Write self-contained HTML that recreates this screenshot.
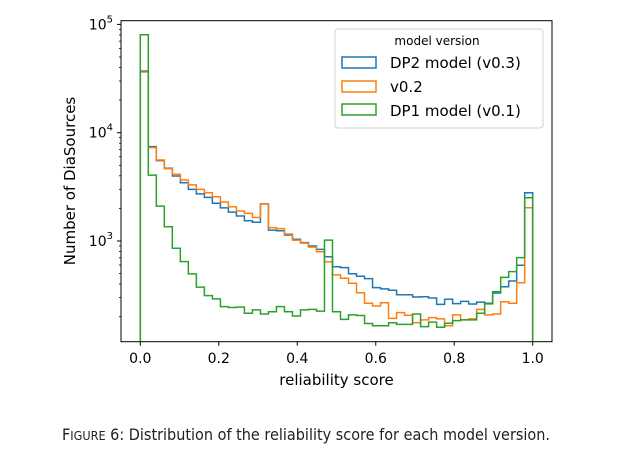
<!DOCTYPE html>
<html><head><meta charset="utf-8"><style>
html,body{margin:0;padding:0;background:#fff;}
svg{display:block;}
text{font-family:"DejaVu Sans","Liberation Sans",sans-serif;}
</style></head><body>
<svg id="chart" width="632" height="466" viewBox="0 0 632 466">
<g id="marks"></g>
<rect x="121" y="20.7" width="431" height="321" fill="none" stroke="#000" stroke-width="1"/>
<g id="axes"></g>
<text x="336.5" y="385" font-size="15" text-anchor="middle">reliability score</text>
<text transform="translate(75,181) rotate(-90)" font-size="15" text-anchor="middle">Number of DiaSources</text>
<g>
<rect x="335" y="29" width="208" height="99" rx="3" fill="#fff" fill-opacity="0.8" stroke="#d0d0d0"/>
<text x="437" y="45" font-size="12" text-anchor="middle">model version</text>
<rect x="342" y="57" width="34" height="11" fill="none" stroke="#1f77b4" stroke-width="1.5"/>
<text x="390" y="68" font-size="15">DP2 model (v0.3)</text>
<rect x="342" y="81" width="34" height="11" fill="none" stroke="#ff7f0e" stroke-width="1.5"/>
<text x="390" y="92" font-size="15">v0.2</text>
<rect x="342" y="104" width="34" height="11" fill="none" stroke="#2ca02c" stroke-width="1.5"/>
<text x="390" y="116" font-size="15">DP1 model (v0.1)</text>
</g>
<text x="62" y="440" font-size="16" font-family="Liberation Sans, sans-serif" fill="#222" textLength="488" lengthAdjust="spacingAndGlyphs">F<tspan font-size="12.5">IGURE</tspan> 6: Distribution of the reliability score for each model version.</text>
</svg>
<script>
const binCount = 49;
const dp2Counts = [36500,7430,5520,4690,3980,3450,3000,2720,2530,2230,2020,1850,1700,1540,1490,2200,1260,1245,1135,1037,965,900,838,716,579,567,499,472,449,371,361,351,319,319,304,306,298,260,290,264,277,262,273,266,331,378,427,597,2790];
const v02Counts = [37350,7280,5600,4650,4130,3660,3300,3000,2790,2560,2290,2070,1890,1800,1650,2200,1330,1300,1160,1020,955,877,795,644,486,453,407,333,266,251,269,193,218,206,176,187,196,191,165,208,187,191,234,208,212,275,266,412,2030];
const dp1Counts = [80300,4060,2100,1355,858,645,497,375,313,292,248,243,245,215,231,212,222,248,222,203,231,234,225,1020,222,189,208,205,173,165,165,176,170,170,212,162,178,160,174,184,187,187,215,263,340,462,521,703,2510];
const xTicks = [0,0.2,0.4,0.6,0.8,1.0];
const xTickLabels = ["0.0","0.2","0.4","0.6","0.8","1.0"];
const yDecades = [3,4,5];

const NS="http://www.w3.org/2000/svg";
function xs(v){return 140.3+v*392.4;}
function ys(c){return 241-(Math.log10(c)-3)*108.3;}
const yBase=341.7;
const marks=document.getElementById('marks');
function drawSeries(counts,color,name){
  let d="M"+xs(0)+","+yBase;
  counts.forEach((c,i)=>{
    const x0=xs(i/binCount),x1=xs((i+1)/binCount),y=ys(c);
    d+=" L"+x0+","+y+" L"+x1+","+y;
  });
  d+=" L"+xs(1)+","+yBase;
  const p=document.createElementNS(NS,'path');
  p.setAttribute('d',d);p.setAttribute('fill','none');p.setAttribute('stroke',color);p.setAttribute('stroke-width','1.5');
  
  
  marks.appendChild(p);
}
drawSeries(dp2Counts,'#1f77b4','series-dp2-v03');
drawSeries(v02Counts,'#ff7f0e','series-v02');
drawSeries(dp1Counts,'#2ca02c','series-dp1-v01');

const axes=document.getElementById('axes');
function line(x1,y1,x2,y2,w){const l=document.createElementNS(NS,'line');l.setAttribute('x1',x1);l.setAttribute('y1',y1);l.setAttribute('x2',x2);l.setAttribute('y2',y2);l.setAttribute('stroke','#000');l.setAttribute('stroke-width',w);axes.appendChild(l);return l;}
xTicks.forEach((t,i)=>{
  const l=line(xs(t),yBase,xs(t),yBase+4,1);
  
  
  const tx=document.createElementNS(NS,'text');
  tx.setAttribute('x',xs(t));tx.setAttribute('y',363);tx.setAttribute('font-size','14');tx.setAttribute('text-anchor','middle');
  tx.textContent=xTickLabels[i];
  
  
  axes.appendChild(tx);
});
yDecades.forEach(e=>{
  const y=ys(Math.pow(10,e));
  const l=line(117,y,121,y,1);
  
  
  const tx=document.createElementNS(NS,'text');
  tx.setAttribute('x',113);tx.setAttribute('y',y+5);tx.setAttribute('font-size','14');tx.setAttribute('text-anchor','end');
  tx.innerHTML='10<tspan dy="-7" font-size="10">'+e+'</tspan>';
  
  
  axes.appendChild(tx);
});
for(let e=2;e<=4;e++){for(let m=2;m<=9;m++){const c=m*Math.pow(10,e);const y=ys(c);if(y<20.7||y>341.7)continue;
  const l=line(119,y,121,y,0.8);
  
  
}}
</script>
</body></html>
